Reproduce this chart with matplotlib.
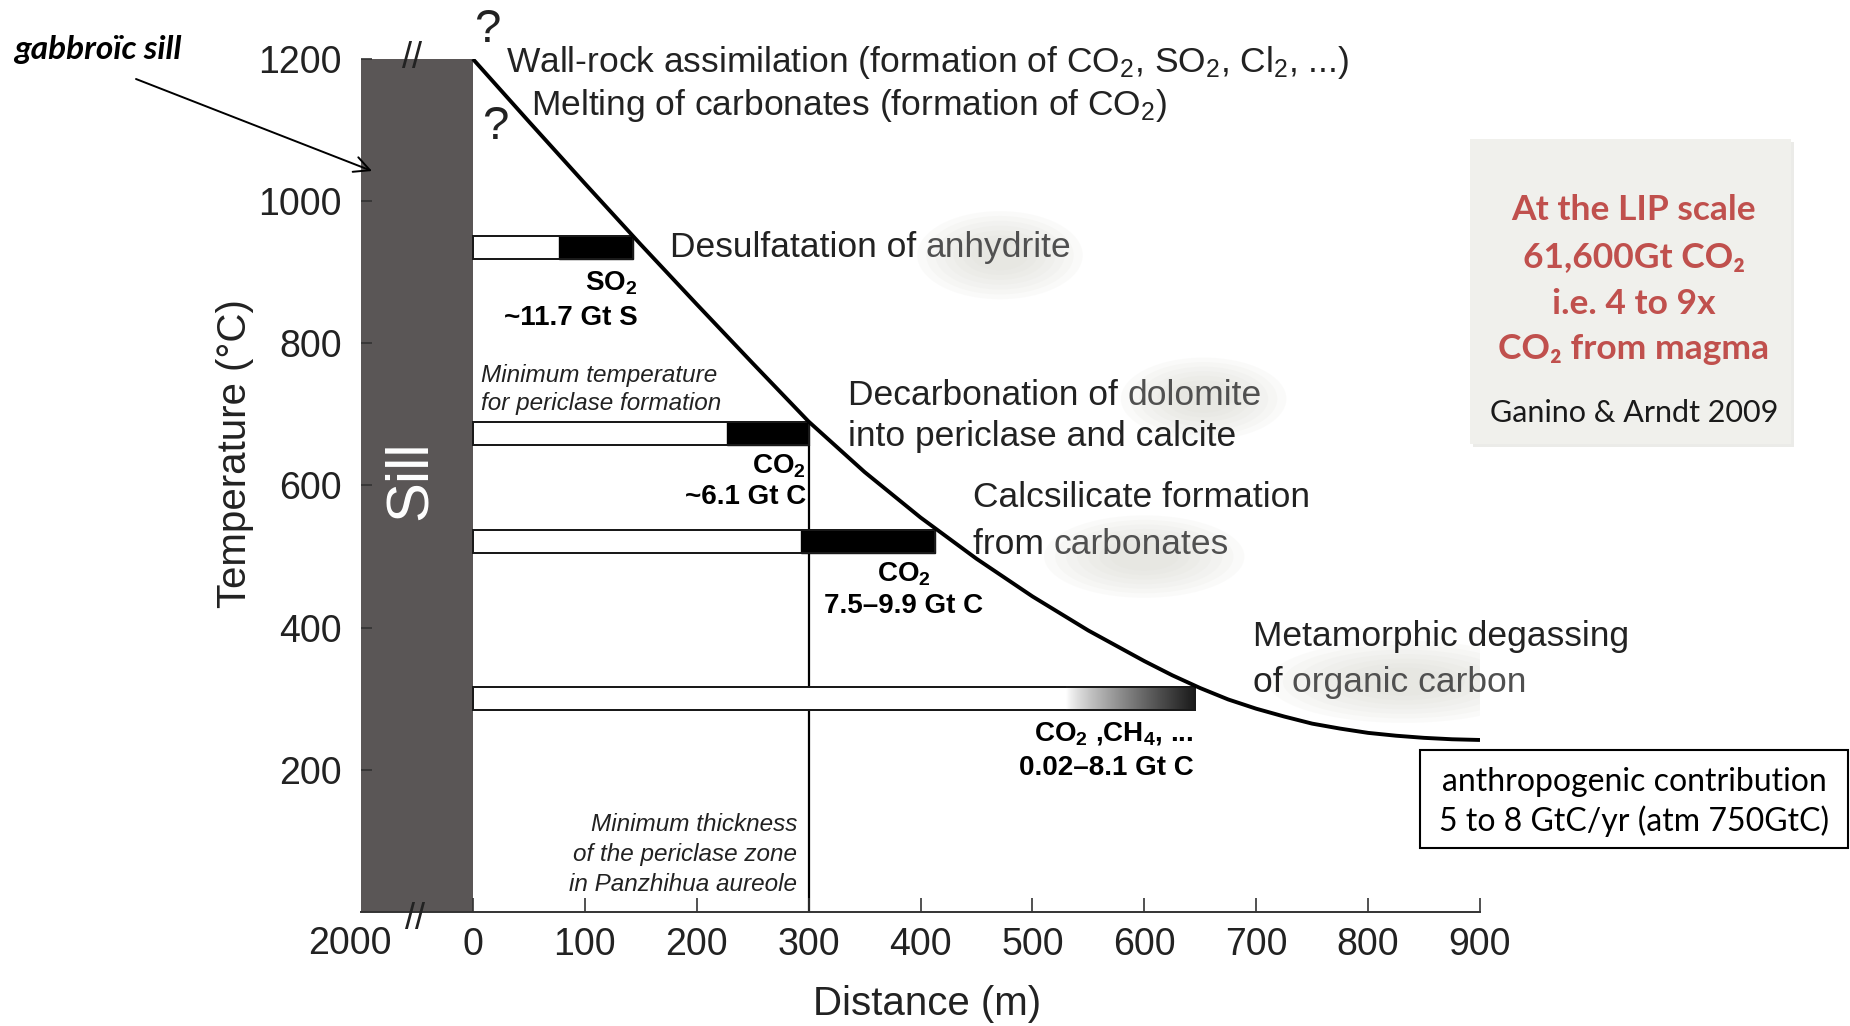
import numpy as np
import matplotlib
matplotlib.use("Agg")
import matplotlib.pyplot as plt
from matplotlib.patches import Rectangle, Ellipse

plt.rcParams['font.family'] = ['Liberation Sans', 'DejaVu Sans']
plt.rcParams['mathtext.fontset'] = 'custom'
plt.rcParams['mathtext.rm'] = 'Liberation Sans'
plt.rcParams['mathtext.it'] = 'Liberation Sans:italic'
plt.rcParams['mathtext.bf'] = 'Liberation Sans:bold'

# ---------------- data ----------------
distance_m = [0, 50, 100, 150, 200, 250, 300, 350, 400, 450, 500, 550, 600,
              625, 650, 675, 700, 725, 750, 775, 800, 825, 850, 875, 900]
temperature_c = [1200, 1112, 1025, 939, 855, 772, 690, 619, 555, 497, 444, 396,
                 353, 333, 315, 299, 286, 275, 265, 258, 252, 248, 245, 243, 242]

sill_extent = (-100, 0)          # compressed 2000 m of sill
sill_top = 1200

bar_temp_low = [918, 657, 505, 284]
bar_temp_high = [951, 690, 538, 317]
bar_end = [143, 300, 413, 645]
bar_fill_start = [77, 227, 293, 530]
bar_gradient = [False, False, False, True]

periclase_distance = 300
periclase_temp = 657

xticks = [0, 100, 200, 300, 400, 500, 600, 700, 800, 900]
yticks = [200, 400, 600, 800, 1000, 1200]

glow_centers = [(471, 924), (653, 722), (600, 500), (832, 324)]
glow_sizes = [(148, 124), (148, 116), (179, 116), (243, 116)]

# ---------------- figure ----------------
W, H = 1850, 1026
fig = plt.figure(figsize=(W / 100, H / 100), dpi=100)
ax = fig.add_axes([361 / W, 1 - 912 / H, (1480 - 361) / W, (912 - 59) / H])

txt = '#222222'
hl = '#505050'

# sill
ax.add_patch(Rectangle((sill_extent[0], 0), sill_extent[1] - sill_extent[0], sill_top,
                       facecolor='#5a5656', edgecolor='none', zorder=1))
ax.text(-56, 607, 'Sill', color='white', fontsize=43, rotation=90,
        ha='center', va='center', zorder=3)

# glows behind highlighted words
for (cx, cy), (w, h) in zip(glow_centers, glow_sizes):
    for k in range(7):
        s = 1 - k * 0.11
        ax.add_patch(Ellipse((cx, cy), w * s, h * s, facecolor='#d8d8d0',
                             edgecolor='none', alpha=0.11, zorder=0.5))

# vertical periclase line
ax.vlines(periclase_distance, 0, periclase_temp, color='black', lw=1.6, zorder=1.5)

# bars
for lo, hi, end, fs, grad in zip(bar_temp_low, bar_temp_high, bar_end,
                                 bar_fill_start, bar_gradient):
    ax.barh((lo + hi) / 2, end, left=0, height=hi - lo, color='white',
            edgecolor='#1a1a1a', lw=1.4, zorder=2)
    if grad:
        g = np.linspace(0, 1, 256) ** 0.8
        ax.imshow(g[np.newaxis, :], extent=[fs, end, lo, hi], aspect='auto',
                  cmap='gray_r', vmin=0, vmax=1.12, zorder=2.1, interpolation='bilinear')
    else:
        ax.barh((lo + hi) / 2, end - fs, left=fs, height=hi - lo, color='black',
                edgecolor='black', lw=1.0, zorder=2.1)
    ax.barh((lo + hi) / 2, end, left=0, height=hi - lo, color='none',
            edgecolor='#1a1a1a', lw=1.4, zorder=2.2)

# temperature curve
ax.plot(distance_m, temperature_c, color='black', lw=2.8, zorder=3,
        solid_capstyle='butt', solid_joinstyle='round')

# axes styling
for side in ['top', 'right', 'left']:
    ax.spines[side].set_visible(False)
ax.spines['bottom'].set_color('#333333')
ax.spines['bottom'].set_linewidth(1.4)
ax.set_xticks(xticks)
ax.set_xticklabels([str(v) for v in xticks])
ax.set_yticks(yticks)
ax.set_yticklabels([str(v) for v in yticks])
ax.set_xlim(-100, 900)
ax.set_ylim(0, 1200)
ax.tick_params(axis='x', direction='in', length=10, width=1.2,
               color='#333333', labelsize=27, labelcolor=txt, pad=11)
ax.tick_params(axis='y', direction='in', length=8, width=1.2, color='#333333',
               labelsize=27, labelcolor=txt, pad=14)
ax.patch.set_alpha(0)
# far edge of the sill (2000 m), axis is broken
ax.text(-110, -0.038, '2000', transform=ax.get_xaxis_transform(), fontsize=27,
        color=txt, ha='center', va='center')

ax.set_xlabel('Distance (m)', fontsize=29, color=txt)
ax.xaxis.set_label_coords(0.506, -0.085)
ax.set_ylabel('Temperature (°C)', fontsize=29, color=txt)
ax.yaxis.label.set_va('center')
ax.yaxis.set_label_coords(-0.113, 0.537)

# break marks
ax.text(-54, 1200, '//', fontsize=26, ha='center', va='center', color='#222222',
        clip_on=False, zorder=4)
ax.text(-52, -10, '//', fontsize=26, ha='center', va='center', color='#222222',
        clip_on=False, zorder=4)

# question marks
ax.text(13, 1241, '?', fontsize=34, ha='center', va='center', color=txt, clip_on=False)
ax.text(20, 1104, '?', fontsize=34, ha='center', va='center', color=txt)

fs_main = 25.5


def two_tone(x, y, plain, high):
    t = ax.text(x, y, plain, fontsize=fs_main, ha='left', va='baseline',
                color=txt, zorder=4)
    ax.annotate(high, xy=(1, 0), xycoords=t, ha='left', va='bottom',
                fontsize=fs_main, color=hl, zorder=4)
    return t


ax.text(30, 1195, r'Wall-rock assimilation (formation of CO$_2$, SO$_2$, Cl$_2$, ...)',
        fontsize=fs_main, ha='left', va='center', color=txt, clip_on=False)
ax.text(52, 1135, r'Melting of carbonates (formation of CO$_2$)',
        fontsize=fs_main, ha='left', va='center', color=txt)

base_off = 16  # baseline sits below line centre (in data units)
two_tone(176, 938 - base_off, 'Desulfatation of ', 'anhydrite')
two_tone(335, 729 - base_off, 'Decarbonation of ', 'dolomite')
ax.text(335, 669, 'into periclase and calcite', fontsize=fs_main, ha='left',
        va='center', color=txt, zorder=4)
ax.text(447, 583, 'Calcsilicate formation', fontsize=fs_main, ha='left',
        va='center', color=txt, zorder=4)
two_tone(447, 519 - base_off, 'from ', 'carbonates')
ax.text(697, 388, 'Metamorphic degassing', fontsize=fs_main, ha='left',
        va='center', color=txt, zorder=4)
two_tone(697, 325 - base_off, 'of ', 'organic carbon')

fs_b = 20
ax.text(147, 885, r'SO$_\mathbf{2}$', fontsize=fs_b, fontweight='bold', ha='right', va='center')
ax.text(147, 835, '~11.7 Gt S', fontsize=fs_b, fontweight='bold', ha='right', va='center')
ax.text(298, 627, r'CO$_\mathbf{2}$', fontsize=fs_b, fontweight='bold', ha='right', va='center')
ax.text(298, 584, '~6.1 Gt C', fontsize=fs_b, fontweight='bold', ha='right', va='center')
ax.text(385, 475, r'CO$_\mathbf{2}$', fontsize=fs_b, fontweight='bold', ha='center', va='center')
ax.text(385, 430, '7.5–9.9 Gt C', fontsize=fs_b, fontweight='bold', ha='center', va='center')
ax.text(644, 251, r'CO$_\mathbf{2}$ ,CH$_\mathbf{4}$, ...', fontsize=fs_b, fontweight='bold',
        ha='right', va='center')
ax.text(644, 202, '0.02–8.1 Gt C', fontsize=fs_b, fontweight='bold', ha='right', va='center')

fs_i = 17.5
ax.text(7, 755, 'Minimum temperature', fontsize=fs_i, style='italic', ha='left',
        va='center', color=txt)
ax.text(7, 715, 'for periclase formation', fontsize=fs_i, style='italic', ha='left',
        va='center', color=txt)
ax.text(290, 123, 'Minimum thickness', fontsize=fs_i, style='italic', ha='right',
        va='center', color=txt)
ax.text(290, 81, 'of the periclase zone', fontsize=fs_i, style='italic', ha='right',
        va='center', color=txt)
ax.text(290, 38, 'in Panzhihua aureole', fontsize=fs_i, style='italic', ha='right',
        va='center', color=txt)

# ---------------- outside annotations ----------------
def fx(px):
    return px / W

def fy(py):
    return 1 - py / H

lato = ['Lato', 'DejaVu Sans']
fig.text(fx(14), fy(50), 'gabbroïc sill', family=lato,
         fontsize=24, fontweight='bold', style='italic', ha='left', va='center')
ax.annotate('', xy=(372, H - 171), xycoords='figure pixels',
            xytext=(136, H - 79), textcoords='figure pixels',
            arrowprops=dict(arrowstyle='->', lw=1.4, color='black',
                            mutation_scale=28, shrinkA=0, shrinkB=0))

# shaded box with soft shadow
fig.patches.append(Rectangle((fx(1473), fy(447)), fx(321), 305 / H,
                             transform=fig.transFigure, facecolor='#ebebe8',
                             edgecolor='none', zorder=0))
fig.patches.append(Rectangle((fx(1470), fy(444)), fx(321), 305 / H,
                             transform=fig.transFigure, facecolor='#f0f0ec',
                             edgecolor='none', zorder=0.1))
red = '#c0504d'
for line, py in [('At the LIP scale', 210), ('61,600Gt CO₂', 257),
                 ('i.e. 4 to 9x', 304), ('CO₂ from magma', 349)]:
    fig.text(fx(1634), fy(py), line, family=lato, fontsize=25.5, fontweight='bold',
             color=red, ha='center', va='center')
fig.text(fx(1634), fy(413), 'Ganino & Arndt 2009', family=lato, fontsize=22,
         color='#1a1a1a', ha='center', va='center')

fig.patches.append(Rectangle((fx(1420), fy(848)), fx(428), 98 / H,
                             transform=fig.transFigure, facecolor='white',
                             edgecolor='black', lw=1.5, zorder=0.1))
fig.text(fx(1634), fy(782), 'anthropogenic contribution', family=lato, fontsize=23,
         color='black', ha='center', va='center')
fig.text(fx(1634), fy(821), '5 to 8 GtC/yr (atm 750GtC)', family=lato, fontsize=23,
         color='black', ha='center', va='center')

fig.savefig('out.png', dpi=100)
